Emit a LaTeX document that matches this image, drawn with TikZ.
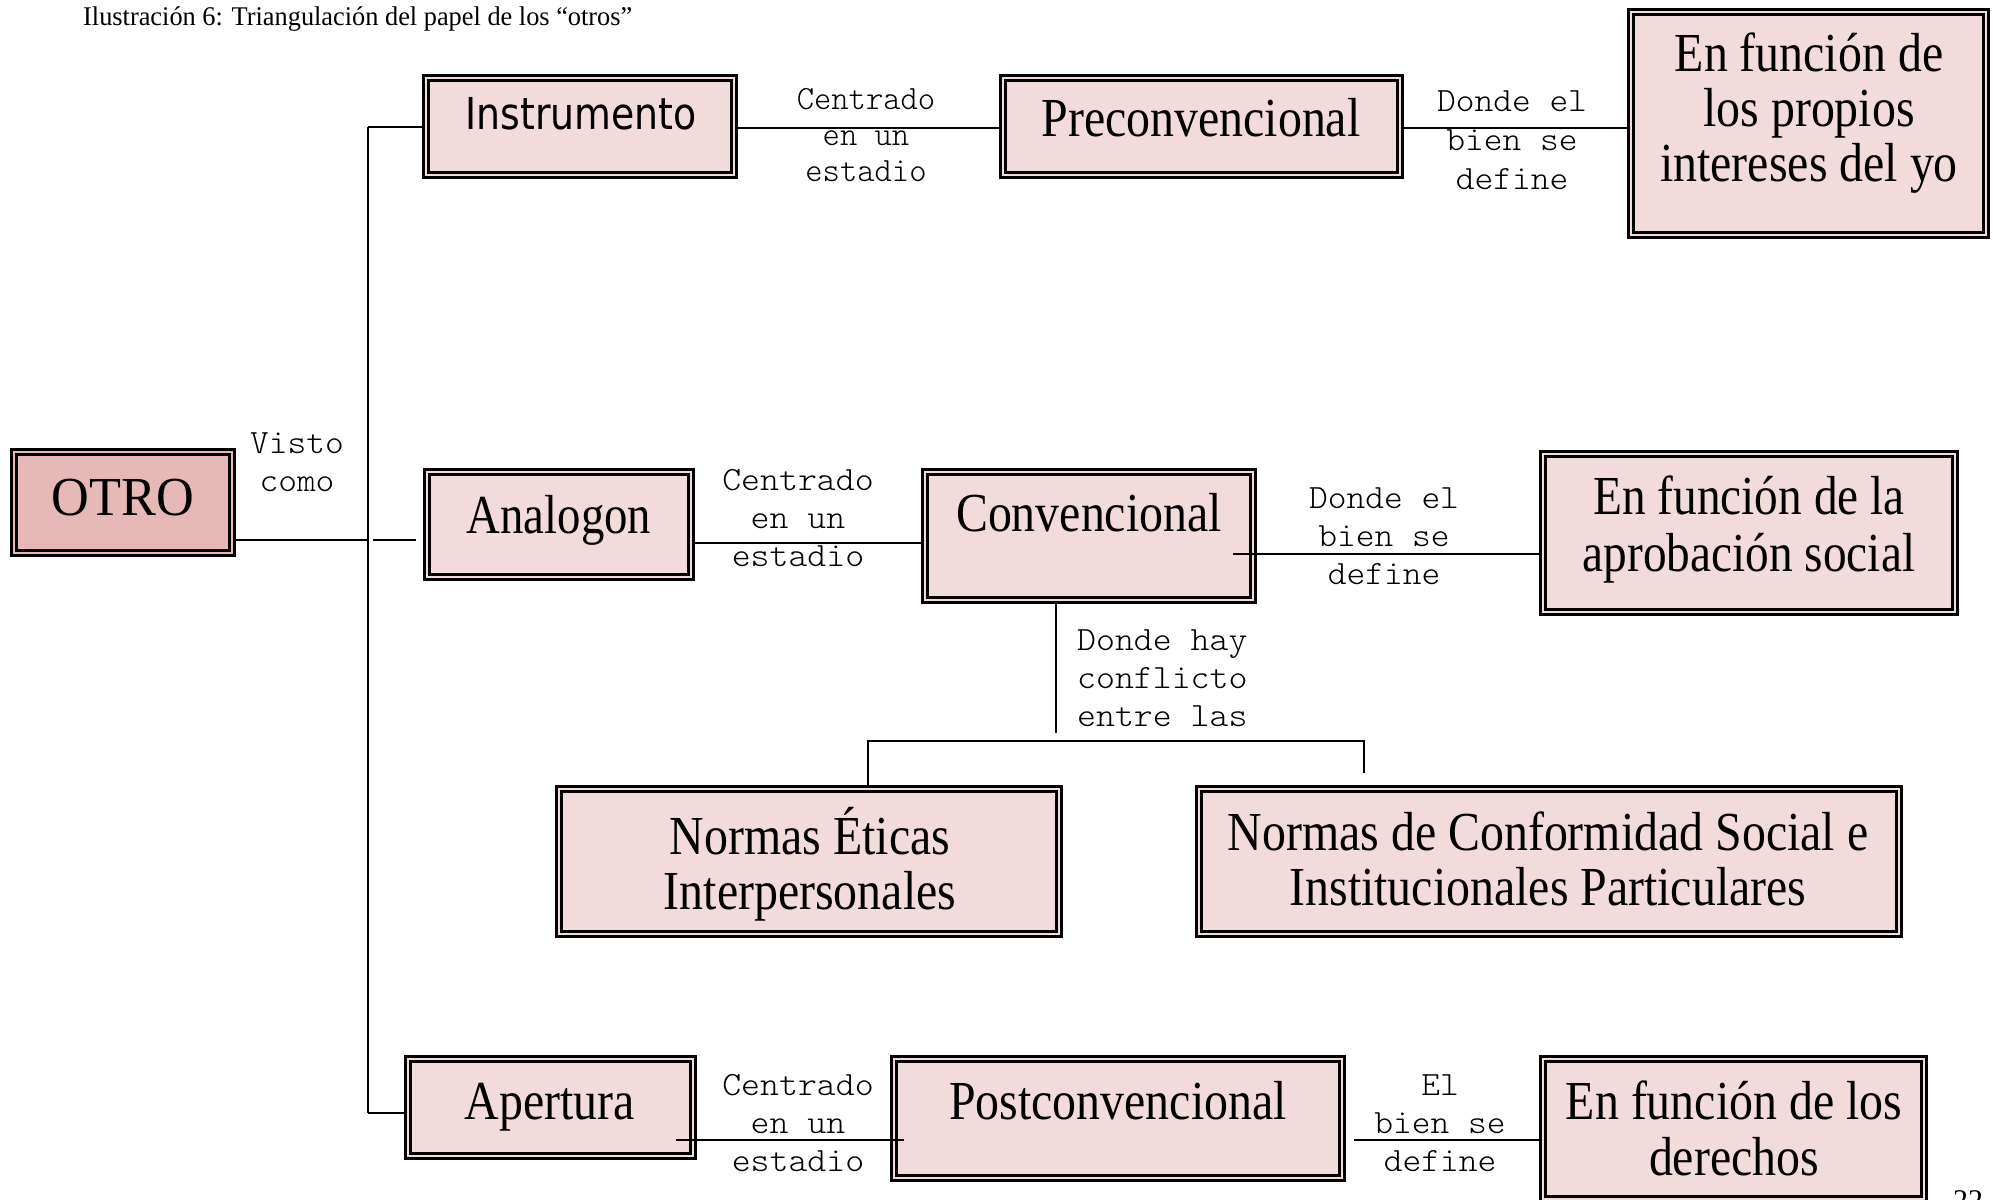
\documentclass[tikz,border=0pt]{standalone}
\usepackage{fontspec}
\usepackage{graphicx}
\setmainfont{Liberation Serif}
\newfontfamily\sansf{DejaVu Sans}
\newfontfamily\monof{Latin Modern Mono Light}
\definecolor{boxpink}{HTML}{F2DCDB}
\definecolor{otropink}{HTML}{E6B9B8}
% horizontally condensed, centred / left-aligned text blocks
\newcommand\sqz[2]{\scalebox{#1}[1]{\begin{tabular}{@{}c@{}}#2\end{tabular}}}
\newcommand\sqzl[2]{\scalebox{#1}[1]{\begin{tabular}{@{}l@{}}#2\end{tabular}}}
\begin{document}
\begin{tikzpicture}[x=1pt,y=-1pt,
  obox/.style={draw=black, line width=2.6pt, double=boxpink, double distance=2.6pt,
               fill=boxpink, inner sep=0pt, outer sep=3.9pt},
  serif/.style={inner sep=0pt, font=\fontsize{55}{55}\selectfont},
  lbl/.style={inner sep=0pt, font=\monof\fontsize{34}{38}\selectfont},
  link/.style={draw=black, line width=2pt}]
\clip (0,0) rectangle (1993,1199);
\fill[white] (0,0) rectangle (1993,1199);

% caption
\node[anchor=west, inner sep=0pt, font=\fontsize{27}{27}\selectfont] (title) at (83,19)
  {\resizebox{549pt}{\height}{Ilustración 6: Triangulación del papel de los “otros”}};

% boxes
\node[obox, fill=otropink, double=otropink, minimum width=218.2pt, minimum height=101.2pt] (otro) at (123,502.5) {};
\node[obox, minimum width=308.2pt, minimum height=97.2pt]  (instr)    at (580,126.5) {};
\node[obox, minimum width=397.2pt, minimum height=97.2pt]  (precon)   at (1201.5,126.5) {};
\node[obox, minimum width=355.2pt, minimum height=223.2pt] (propios)  at (1808.5,123.5) {};
\node[obox, minimum width=264.2pt, minimum height=105.2pt] (analog)   at (559,524.5) {};
\node[obox, minimum width=328.2pt, minimum height=128.2pt] (conv)     at (1089,536) {};
\node[obox, minimum width=412.2pt, minimum height=158.2pt] (aprob)    at (1749,533) {};
\node[obox, minimum width=500.2pt, minimum height=145.2pt] (normeth)  at (809,861.5) {};
\node[obox, minimum width=700.2pt, minimum height=145.2pt] (normconf) at (1549,861.5) {};
\node[obox, minimum width=285.2pt, minimum height=97.2pt]  (apert)    at (550.5,1107.5) {};
\node[obox, minimum width=448.2pt, minimum height=119.2pt] (post)     at (1118,1118.5) {};
\node[obox, minimum width=381.2pt, minimum height=140.2pt] (derech)   at (1733.5,1129) {};

% trunk from OTRO
\coordinate (tr-top) at (368,127);
\coordinate (tr-mid) at (368,540);
\coordinate (tr-bot) at (368,1113);
\draw[link] (tr-top) -- (tr-bot);
\draw[link] (tr-top) -- (tr-top -| instr.west);
\draw[link] (tr-bot) -- (tr-bot -| apert.west);
\draw[link] (tr-mid -| otro.east) -- (tr-mid);
\draw[link] ([xshift=5pt]tr-mid) -- ([xshift=-7pt]tr-mid -| analog.west);

% first row
\coordinate (row1) at (0,128);
\draw[link] (row1 -| instr.east) -- (row1 -| precon.west);
\draw[link] (row1 -| precon.east) -- (row1 -| propios.west);

% second row
\coordinate (row2a) at (0,543);
\coordinate (row2b) at (0,554);
\draw[link] (row2a -| analog.east) -- (row2a -| conv.west);
\draw[link] ([xshift=-24pt]row2b -| conv.east) -- (row2b -| aprob.west);

% branch to the two kinds of norms
\coordinate (drop-end) at (1056,733);
\coordinate (brk-l) at (868,741);
\coordinate (brk-r) at (1364,741);
\coordinate (brk-rend) at (1364,773);
\draw[link] (drop-end |- conv.south) -- (drop-end);
\draw[link] (brk-l |- normeth.north) -- (brk-l) -- (brk-r) -- (brk-rend);

% third row
\coordinate (row3) at (0,1140);
\draw[link] ([xshift=-21pt]row3 -| apert.east) -- ([xshift=14pt]row3 -| post.west);
\draw[link] ([xshift=8pt]row3 -| post.east) -- (row3 -| derech.west);

% box texts
\node[serif] (otro-t) at (123,504) {\sqz{0.95}{OTRO}};
\node[inner sep=0pt, font=\sansf\fontsize{44}{44}\selectfont] (instr-t) at (581,120) {\sqz{0.86}{Instrumento}};
\node[serif] (precon-t) at (1201,125) {\sqz{0.87}{Preconvencional}};
\node[serif] (propios-t) at (1809,115) {\sqz{0.87}{En función de\\los propios\\intereses del yo}};
\node[serif] (analog-t) at (559,522) {\sqz{0.85}{Analogon}};
\node[serif] (conv-t) at (1089,520) {\sqz{0.87}{Convencional}};
\node[serif, font=\fontsize{55}{57}\selectfont] (aprob-t) at (1749,532) {\sqz{0.86}{En función de la\\aprobación social}};
\node[serif] (normeth-t) at (810,867) {\sqz{0.87}{Normas Éticas\\Interpersonales}};
\node[serif] (normconf-t) at (1548,867) {\sqz{0.87}{Normas de Conformidad Social e\\Institucionales Particulares}};
\node[serif] (apert-t) at (550,1108) {\sqz{0.87}{Apertura}};
\node[serif] (post-t) at (1118,1108) {\sqz{0.87}{Postconvencional}};
\node[serif, font=\fontsize{55}{56}\selectfont] (derech-t) at (1734,1136) {\sqz{0.87}{En función de los\\derechos}};

% connector labels
\node[lbl] (l-visto) at (297,465) {\sqz{1.05}{Visto\\como}};
\node[lbl, font=\monof\fontsize{34}{36}\selectfont] (l-c1) at (866,138) {\sqz{0.97}{Centrado\\en un\\estadio}};
\node[lbl, font=\monof\fontsize{34}{39}\selectfont] (l-d1) at (1512,143) {\sqz{1.05}{Donde el\\bien se\\define}};
\node[lbl] (l-c2) at (798,521) {\sqz{1.06}{Centrado\\en un\\estadio}};
\node[lbl] (l-d2) at (1384,539) {\sqz{1.05}{Donde el\\bien se\\define}};
\node[lbl, anchor=west] (l-hay) at (1077,681) {\sqzl{1.06}{Donde hay\\conflicto\\entre las}};
\node[lbl] (l-c3) at (798,1126) {\sqz{1.06}{Centrado\\en un\\estadio}};
\node[lbl] (l-d3) at (1440,1126) {\sqz{1.05}{El\\bien se\\define}};

% page number, cut by the lower edge
\node[anchor=north west, inner sep=0pt, font=\fontsize{30}{30}\selectfont] (pnum) at (1953,1190) {22};
\end{tikzpicture}
\end{document}
